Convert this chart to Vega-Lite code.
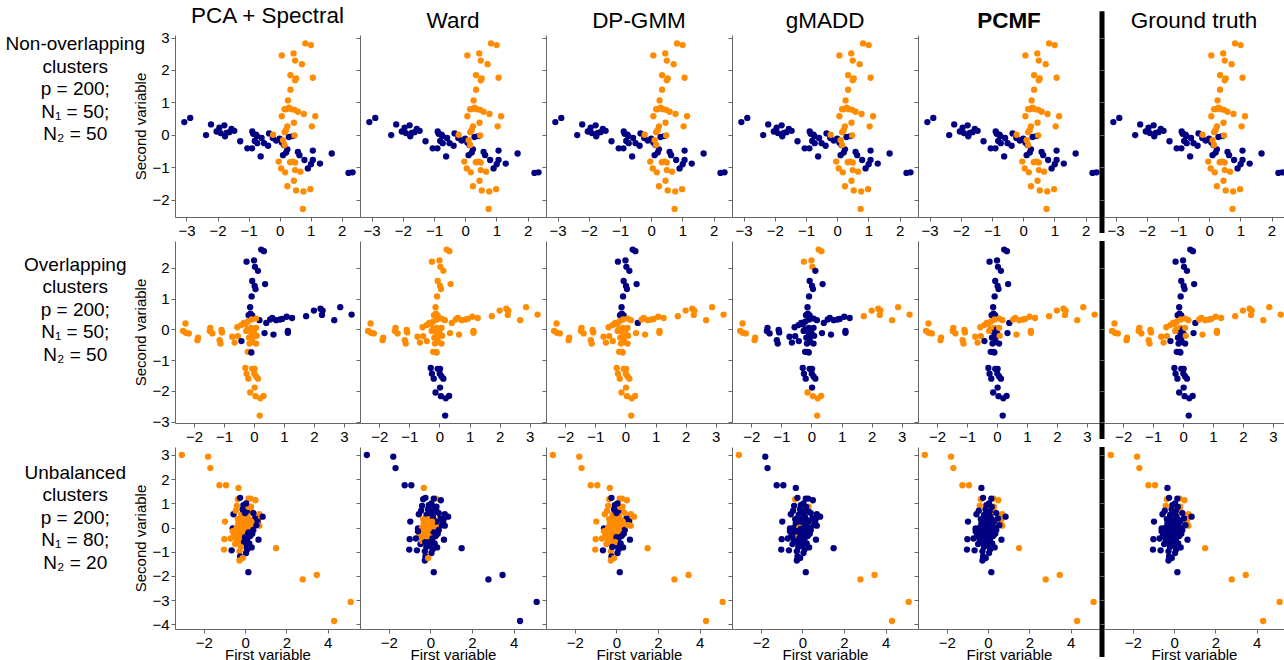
{
"$schema": "https://vega.github.io/schema/vega-lite/v6.json",
"padding": {"left": 0, "top": 5, "right": 0, "bottom": 0},
"autosize": {"type": "pad"},
"config": {
  "view": {"stroke": null},
  "font": "Liberation Sans",
  "axis": {"grid": false, "domainColor": "#666", "tickColor": "#666", "tickSize": 4, "labelFont": "Liberation Sans", "labelFontSize": 15, "labelColor": "#000", "labelPadding": 2, "titleFont": "Liberation Sans", "titleFontSize": 15, "titleFontWeight": "normal", "titleColor": "#000", "titlePadding": 3},
  "axisX": {"titlePadding": -3},
  "title": {"font": "Liberation Sans", "fontSize": 22.5, "fontWeight": "normal", "color": "#000", "offset": 3},
  "circle": {"size": 40, "opacity": 1}
},
"datasets": {
  "r1": [
    {"x":-3.07,"y":0.39,"g":1},{"x":-2.88,"y":0.52,"g":1},{"x":-2.37,"y":-0.01,"g":1},{"x":-2.21,"y":0.32,"g":1},{"x":-2.03,"y":0.10,"g":1},{"x":-1.94,"y":0.22,"g":1},{"x":-1.78,"y":0.29,"g":1},{"x":-1.76,"y":-0.05,"g":1},{"x":-1.71,"y":0.06,"g":1},{"x":-1.62,"y":0.08,"g":1},{"x":-1.46,"y":0.12,"g":1},{"x":-1.27,"y":-0.20,"g":1},{"x":-1.04,"y":-0.42,"g":1},{"x":-0.89,"y":-0.42,"g":1},{"x":-0.88,"y":0.10,"g":1},{"x":-0.80,"y":-0.19,"g":1},{"x":-0.73,"y":-0.04,"g":1},{"x":-0.72,"y":-0.26,"g":1},{"x":-0.61,"y":-0.67,"g":1},{"x":-0.50,"y":-0.26,"g":1},{"x":-0.34,"y":0.04,"g":1},{"x":-0.37,"y":-0.34,"g":1},{"x":-0.11,"y":-0.18,"g":1},{"x":0.00,"y":-0.12,"g":1},{"x":0.07,"y":-0.24,"g":1},{"x":0.14,"y":-0.32,"g":1},{"x":0.11,"y":-0.63,"g":1},{"x":0.21,"y":-0.55,"g":1},{"x":0.30,"y":-0.07,"g":1},{"x":0.43,"y":-0.04,"g":1},{"x":0.59,"y":-0.53,"g":1},{"x":0.64,"y":-0.63,"g":1},{"x":0.80,"y":-0.78,"g":1},{"x":1.07,"y":-0.49,"g":1},{"x":1.07,"y":-0.78,"g":1},{"x":0.91,"y":-1.04,"g":1},{"x":1.01,"y":-0.91,"g":1},{"x":1.30,"y":-0.89,"g":1},{"x":1.68,"y":-0.58,"g":1},{"x":2.22,"y":-1.18,"g":1},{"x":2.35,"y":-1.16,"g":1},{"x":-0.85,"y":0.03,"g":1},{"x":-0.76,"y":0.00,"g":1},{"x":-0.22,"y":-0.10,"g":1},{"x":0.25,"y":-0.45,"g":1},{"x":-1.55,"y":0.18,"g":1},{"x":-0.58,"y":-0.10,"g":1},{"x":-1.90,"y":0.05,"g":1},
    {"x":0.83,"y":2.82,"g":2},{"x":1.01,"y":2.77,"g":2},{"x":0.07,"y":2.45,"g":2},{"x":0.45,"y":2.51,"g":2},{"x":0.50,"y":2.29,"g":2},{"x":0.72,"y":2.18,"g":2},{"x":0.35,"y":1.84,"g":2},{"x":0.50,"y":1.68,"g":2},{"x":0.53,"y":1.74,"g":2},{"x":1.07,"y":1.76,"g":2},{"x":0.35,"y":1.39,"g":2},{"x":0.27,"y":1.06,"g":2},{"x":0.21,"y":0.79,"g":2},{"x":0.30,"y":0.84,"g":2},{"x":0.37,"y":0.79,"g":2},{"x":0.48,"y":0.77,"g":2},{"x":0.59,"y":0.71,"g":2},{"x":0.16,"y":0.79,"g":2},{"x":0.07,"y":0.57,"g":2},{"x":0.78,"y":0.64,"g":2},{"x":1.15,"y":0.57,"g":2},{"x":0.46,"y":0.37,"g":2},{"x":1.04,"y":0.26,"g":2},{"x":0.25,"y":0.26,"g":2},{"x":0.21,"y":0.15,"g":2},{"x":-0.21,"y":0.00,"g":2},{"x":0.16,"y":0.08,"g":2},{"x":0.48,"y":-0.02,"g":2},{"x":0.11,"y":-0.17,"g":2},{"x":0.16,"y":-0.32,"g":2},{"x":-0.03,"y":-0.83,"g":2},{"x":0.34,"y":-0.85,"g":2},{"x":0.43,"y":-0.83,"g":2},{"x":0.50,"y":-0.86,"g":2},{"x":0.05,"y":-1.04,"g":2},{"x":0.50,"y":-1.09,"g":2},{"x":0.67,"y":-1.14,"g":2},{"x":0.18,"y":-1.16,"g":2},{"x":0.46,"y":-1.42,"g":2},{"x":0.25,"y":-1.59,"g":2},{"x":0.53,"y":-1.72,"g":2},{"x":0.77,"y":-1.75,"g":2},{"x":0.99,"y":-1.68,"g":2},{"x":0.75,"y":-2.29,"g":2}
  ],
  "r2": [
    {"x":0.24,"y":2.59,"a":1,"b":2,"c":1,"d":2,"g":1},{"x":0.33,"y":2.54,"a":1,"b":2,"c":1,"d":2,"g":1},{"x":-0.25,"y":2.20,"a":1,"b":2,"c":1,"d":2,"g":1},{"x":0.00,"y":2.24,"a":1,"b":2,"c":1,"d":2,"g":1},{"x":0.03,"y":2.03,"a":1,"b":2,"c":1,"d":2,"g":1},
    {"x":0.13,"y":1.90,"a":1,"b":2,"c":1,"d":1,"g":1},{"x":-0.06,"y":1.57,"a":1,"b":2,"c":1,"d":1,"g":1},{"x":0.37,"y":1.47,"a":1,"b":2,"c":1,"d":1,"g":1},{"x":0.02,"y":1.41,"a":1,"b":2,"c":1,"d":1,"g":1},{"x":0.05,"y":1.31,"a":1,"b":2,"c":1,"d":1,"g":1},{"x":-0.08,"y":1.07,"a":1,"b":2,"c":1,"d":1,"g":1},{"x":-0.13,"y":0.72,"a":1,"b":2,"c":1,"d":1,"g":1},{"x":-0.18,"y":0.46,"a":1,"b":2,"c":1,"d":1,"g":1},{"x":-0.12,"y":0.51,"a":1,"b":2,"c":1,"d":1,"g":1},{"x":-0.06,"y":0.45,"a":1,"b":2,"c":1,"d":1,"g":1},
    {"x":0.18,"y":0.30,"a":1,"b":2,"c":2,"d":1,"g":2},{"x":0.41,"y":0.21,"a":1,"b":2,"c":1,"d":1,"g":1},{"x":0.54,"y":0.32,"a":1,"b":2,"c":2,"d":1,"g":2},{"x":0.61,"y":0.37,"a":1,"b":2,"c":2,"d":1,"g":2},{"x":0.74,"y":0.30,"a":1,"b":2,"c":2,"d":1,"g":2},{"x":0.87,"y":0.32,"a":1,"b":2,"c":2,"d":1,"g":2},{"x":0.94,"y":0.34,"a":1,"b":2,"c":2,"d":1,"g":2},{"x":1.09,"y":0.41,"a":1,"b":2,"c":2,"d":1,"g":2},{"x":1.27,"y":0.37,"a":1,"b":2,"c":2,"d":1,"g":2},{"x":1.13,"y":-0.05,"a":1,"b":2,"c":2,"d":1,"g":2},{"x":1.13,"y":-0.11,"a":1,"b":2,"c":2,"d":1,"g":2},{"x":0.35,"y":-0.12,"a":1,"b":2,"c":2,"d":1,"g":1},{"x":0.65,"y":-0.17,"a":1,"b":2,"c":2,"d":1,"g":2},
    {"x":1.74,"y":0.43,"a":1,"b":2,"c":2,"d":2,"g":2},{"x":2.00,"y":0.61,"a":1,"b":2,"c":2,"d":2,"g":2},{"x":2.22,"y":0.67,"a":1,"b":2,"c":2,"d":2,"g":2},{"x":2.29,"y":0.61,"a":1,"b":2,"c":2,"d":2,"g":2},{"x":2.27,"y":0.47,"a":1,"b":2,"c":2,"d":2,"g":2},{"x":2.68,"y":0.30,"a":1,"b":2,"c":2,"d":2,"g":2},{"x":2.88,"y":0.72,"a":1,"b":2,"c":2,"d":2,"g":2},{"x":3.26,"y":0.48,"a":1,"b":2,"c":2,"d":2,"g":2},
    {"x":-2.37,"y":-0.05,"a":2,"b":2,"c":2,"d":2,"g":2},{"x":-2.29,"y":0.19,"a":2,"b":2,"c":2,"d":2,"g":2},{"x":-2.28,"y":-0.11,"a":2,"b":2,"c":2,"d":2,"g":2},{"x":-2.18,"y":-0.13,"a":2,"b":2,"c":2,"d":2,"g":2},{"x":-1.87,"y":-0.27,"a":2,"b":2,"c":2,"d":2,"g":2},{"x":-1.89,"y":-0.35,"a":2,"b":2,"c":2,"d":2,"g":2},
    {"x":-1.46,"y":0.05,"a":2,"b":2,"c":2,"d":1,"g":2},{"x":-1.48,"y":-0.05,"a":2,"b":2,"c":2,"d":1,"g":2},{"x":-1.39,"y":-0.13,"a":2,"b":2,"c":2,"d":1,"g":2},{"x":-1.09,"y":-0.02,"a":2,"b":2,"c":2,"d":1,"g":2},{"x":-1.07,"y":-0.10,"a":2,"b":2,"c":2,"d":1,"g":2},{"x":-1.15,"y":-0.35,"a":2,"b":2,"c":2,"d":1,"g":2},{"x":-1.12,"y":-0.46,"a":2,"b":2,"c":2,"d":1,"g":2},{"x":-0.73,"y":-0.24,"a":2,"b":2,"c":2,"d":1,"g":2},{"x":-0.65,"y":-0.43,"a":2,"b":2,"c":2,"d":1,"g":2},{"x":-0.54,"y":-0.22,"a":2,"b":2,"c":2,"d":1,"g":2},{"x":-0.56,"y":0.07,"a":2,"b":2,"c":2,"d":1,"g":2},{"x":-0.43,"y":0.14,"a":2,"b":2,"c":2,"d":1,"g":2},{"x":-0.34,"y":0.21,"a":2,"b":2,"c":2,"d":1,"g":2},{"x":-0.29,"y":0.17,"a":2,"b":2,"c":2,"d":1,"g":2},{"x":-0.21,"y":0.25,"a":2,"b":2,"c":2,"d":1,"g":2},{"x":-0.08,"y":0.32,"a":2,"b":2,"c":2,"d":1,"g":2},{"x":0.07,"y":0.35,"a":2,"b":2,"c":2,"d":1,"g":2},
    {"x":-0.21,"y":0.00,"a":2,"b":2,"c":2,"d":1,"g":2},{"x":-0.09,"y":0.05,"a":2,"b":2,"c":2,"d":1,"g":2},{"x":0.00,"y":0.00,"a":2,"b":2,"c":2,"d":1,"g":1},{"x":0.07,"y":0.05,"a":2,"b":2,"c":2,"d":1,"g":2},{"x":-0.09,"y":-0.11,"a":2,"b":2,"c":2,"d":1,"g":1},{"x":0.02,"y":-0.16,"a":2,"b":2,"c":2,"d":1,"g":1},{"x":-0.17,"y":-0.27,"a":2,"b":2,"c":2,"d":1,"g":1},{"x":-0.06,"y":-0.27,"a":2,"b":2,"c":2,"d":1,"g":1},{"x":0.09,"y":-0.21,"a":2,"b":2,"c":2,"d":1,"g":2},{"x":-0.15,"y":-0.46,"a":2,"b":2,"c":2,"d":1,"g":1},{"x":-0.04,"y":-0.41,"a":2,"b":2,"c":2,"d":1,"g":1},{"x":0.07,"y":-0.46,"a":2,"b":2,"c":2,"d":1,"g":1},{"x":-0.26,"y":-0.05,"a":2,"b":2,"c":2,"d":1,"g":2},{"x":-0.21,"y":-0.73,"a":2,"b":2,"c":2,"d":1,"g":1},{"x":-0.12,"y":-0.73,"a":2,"b":2,"c":2,"d":1,"g":1},
    {"x":-0.29,"y":-1.25,"a":2,"b":1,"c":2,"d":1,"g":1},{"x":-0.25,"y":-1.44,"a":2,"b":1,"c":2,"d":1,"g":1},{"x":-0.19,"y":-1.60,"a":2,"b":1,"c":2,"d":1,"g":1},{"x":-0.06,"y":-1.28,"a":2,"b":1,"c":2,"d":1,"g":1},{"x":0.02,"y":-1.28,"a":2,"b":1,"c":2,"d":1,"g":1},{"x":0.01,"y":-1.44,"a":2,"b":1,"c":2,"d":1,"g":1},{"x":0.07,"y":-1.53,"a":2,"b":1,"c":2,"d":1,"g":1},{"x":0.13,"y":-1.60,"a":2,"b":1,"c":2,"d":1,"g":1},{"x":0.02,"y":-1.89,"a":2,"b":1,"c":2,"d":1,"g":1},
    {"x":-0.13,"y":-2.05,"a":2,"b":1,"c":2,"d":2,"g":1},{"x":0.05,"y":-2.17,"a":2,"b":1,"c":2,"d":2,"g":1},{"x":0.21,"y":-2.24,"a":2,"b":1,"c":2,"d":2,"g":1},{"x":0.32,"y":-2.16,"a":2,"b":1,"c":2,"d":2,"g":1},{"x":0.19,"y":-2.80,"a":2,"b":1,"c":2,"d":2,"g":1},
    {"x":-0.42,"y":-0.38,"a":1,"b":2,"c":2,"d":1,"g":1},{"x":-0.09,"y":-0.75,"a":1,"b":2,"c":2,"d":1,"g":1}
  ],
  "r3": [
    {"x":-3.06,"y":3.00,"a":2,"b":1,"c":2,"d":2,"g":2},{"x":-1.79,"y":2.93,"a":2,"b":1,"c":2,"d":1,"g":2},{"x":-1.68,"y":2.46,"a":2,"b":1,"c":2,"d":1,"g":2},{"x":-1.24,"y":1.75,"a":2,"b":1,"c":2,"d":1,"g":2},{"x":-0.92,"y":1.75,"a":2,"b":1,"c":2,"d":1,"g":2},{"x":-0.35,"y":1.17,"a":2,"b":1,"c":2,"d":2,"g":2},{"x":-0.40,"y":0.90,"a":2,"b":1,"c":2,"d":1,"g":2},{"x":0.27,"y":1.20,"a":2,"b":2,"c":2,"d":1,"g":2},{"x":0.50,"y":1.13,"a":2,"b":1,"c":2,"d":1,"g":2},{"x":0.29,"y":0.86,"a":2,"b":1,"c":2,"d":2,"g":2},{"x":0.32,"y":0.65,"a":2,"b":1,"c":2,"d":1,"g":2},{"x":0.69,"y":0.55,"a":2,"b":1,"c":2,"d":1,"g":2},{"x":0.65,"y":0.38,"a":2,"b":1,"c":2,"d":1,"g":2},{"x":0.61,"y":0.25,"a":1,"b":1,"c":1,"d":1,"g":2},{"x":0.69,"y":0.08,"a":2,"b":1,"c":2,"d":1,"g":2},{"x":1.50,"y":-0.85,"a":2,"b":1,"c":2,"d":1,"g":2},{"x":2.79,"y":-2.14,"a":2,"b":1,"c":2,"d":2,"g":2},{"x":3.47,"y":-1.96,"a":2,"b":1,"c":2,"d":2,"g":2},{"x":5.11,"y":-3.07,"a":2,"b":1,"c":2,"d":2,"g":2},{"x":4.31,"y":-3.86,"a":2,"b":1,"c":2,"d":2,"g":2},
    {"x":-0.32,"y":1.64,"a":2,"b":2,"c":2,"d":1,"g":1},{"x":-0.24,"y":1.23,"a":1,"b":1,"c":1,"d":1,"g":1},{"x":0.16,"y":1.20,"a":2,"b":1,"c":2,"d":1,"g":1},{"x":-0.08,"y":0.93,"a":1,"b":1,"c":1,"d":1,"g":1},{"x":0.08,"y":0.68,"a":1,"b":1,"c":1,"d":1,"g":1},{"x":-0.56,"y":0.55,"a":1,"b":1,"c":2,"d":1,"g":1},{"x":-0.19,"y":0.52,"a":2,"b":1,"c":2,"d":1,"g":1},{"x":0.85,"y":0.45,"a":1,"b":1,"c":2,"d":1,"g":1},{"x":0.48,"y":0.38,"a":1,"b":1,"c":1,"d":1,"g":1},{"x":-0.97,"y":0.25,"a":2,"b":1,"c":2,"d":1,"g":1},{"x":0.00,"y":0.31,"a":2,"b":2,"c":2,"d":1,"g":1},{"x":0.24,"y":0.31,"a":2,"b":2,"c":2,"d":1,"g":1},{"x":-0.32,"y":0.18,"a":2,"b":2,"c":2,"d":1,"g":1},{"x":-0.60,"y":-0.03,"a":1,"b":1,"c":1,"d":1,"g":1},{"x":-0.40,"y":0.00,"a":2,"b":2,"c":2,"d":1,"g":1},{"x":-0.16,"y":0.04,"a":2,"b":2,"c":2,"d":1,"g":1},{"x":0.08,"y":0.08,"a":2,"b":2,"c":2,"d":1,"g":1},{"x":0.32,"y":0.00,"a":2,"b":2,"c":2,"d":1,"g":1},{"x":-0.53,"y":-0.27,"a":2,"b":2,"c":2,"d":1,"g":1},{"x":-0.32,"y":-0.23,"a":2,"b":2,"c":2,"d":1,"g":1},{"x":-0.08,"y":-0.16,"a":2,"b":2,"c":2,"d":1,"g":1},{"x":0.16,"y":-0.30,"a":1,"b":2,"c":1,"d":1,"g":1},{"x":0.40,"y":-0.10,"a":1,"b":1,"c":1,"d":1,"g":1},{"x":-1.00,"y":-0.48,"a":2,"b":1,"c":2,"d":1,"g":1},{"x":-0.40,"y":-0.44,"a":2,"b":2,"c":2,"d":1,"g":1},{"x":-0.16,"y":-0.50,"a":2,"b":2,"c":2,"d":1,"g":1},{"x":0.08,"y":-0.57,"a":1,"b":1,"c":1,"d":1,"g":1},{"x":0.65,"y":-0.50,"a":1,"b":1,"c":1,"d":1,"g":1},{"x":-0.48,"y":-0.68,"a":2,"b":1,"c":2,"d":1,"g":1},{"x":0.00,"y":-0.74,"a":1,"b":1,"c":1,"d":1,"g":1},{"x":-1.02,"y":-0.91,"a":2,"b":1,"c":2,"d":1,"g":1},{"x":-0.65,"y":-0.94,"a":1,"b":1,"c":1,"d":1,"g":1},{"x":-0.27,"y":-0.98,"a":2,"b":1,"c":2,"d":1,"g":1},{"x":0.32,"y":-0.82,"a":1,"b":1,"c":1,"d":1,"g":1},{"x":0.05,"y":-1.05,"a":1,"b":1,"c":1,"d":1,"g":1},{"x":-0.24,"y":-1.19,"a":1,"b":1,"c":1,"d":1,"g":1},{"x":-0.27,"y":-1.36,"a":2,"b":1,"c":2,"d":1,"g":1},{"x":-0.11,"y":-1.26,"a":2,"b":2,"c":2,"d":1,"g":1},{"x":0.16,"y":-1.84,"a":1,"b":1,"c":1,"d":1,"g":1},
    {"x":-0.45,"y":-0.10,"a":2,"b":2,"c":2,"d":1,"g":1},{"x":-0.35,"y":-0.30,"a":2,"b":2,"c":2,"d":1,"g":1},{"x":-0.25,"y":-0.05,"a":2,"b":2,"c":2,"d":1,"g":1},{"x":-0.20,"y":-0.35,"a":2,"b":2,"c":2,"d":2,"g":1},{"x":-0.10,"y":-0.25,"a":2,"b":2,"c":2,"d":1,"g":1},{"x":-0.05,"y":0.10,"a":2,"b":2,"c":2,"d":1,"g":1},{"x":0.05,"y":-0.10,"a":2,"b":2,"c":2,"d":1,"g":1},{"x":0.15,"y":-0.20,"a":1,"b":1,"c":2,"d":1,"g":1},{"x":-0.30,"y":0.10,"a":2,"b":2,"c":2,"d":1,"g":1},{"x":-0.15,"y":-0.45,"a":2,"b":2,"c":2,"d":1,"g":1},{"x":0.00,"y":-0.40,"a":1,"b":2,"c":1,"d":1,"g":1},{"x":0.20,"y":0.15,"a":2,"b":2,"c":2,"d":1,"g":1},{"x":-0.40,"y":-0.55,"a":2,"b":2,"c":2,"d":1,"g":1},{"x":-0.25,"y":-0.60,"a":2,"b":1,"c":2,"d":1,"g":1},{"x":0.10,"y":-0.45,"a":1,"b":1,"c":1,"d":1,"g":1},{"x":-0.50,"y":-0.35,"a":2,"b":2,"c":2,"d":1,"g":1},{"x":0.30,"y":0.25,"a":2,"b":1,"c":2,"d":1,"g":1},{"x":-0.10,"y":0.35,"a":2,"b":2,"c":2,"d":1,"g":1},{"x":-0.20,"y":0.25,"a":2,"b":2,"c":2,"d":1,"g":1},{"x":0.12,"y":0.45,"a":2,"b":1,"c":2,"d":1,"g":1},{"x":-0.35,"y":0.35,"a":2,"b":2,"c":2,"d":1,"g":1},{"x":-0.05,"y":-0.60,"a":1,"b":1,"c":2,"d":1,"g":1},{"x":0.25,"y":-0.35,"a":1,"b":1,"c":1,"d":1,"g":1},{"x":-0.60,"y":-0.15,"a":2,"b":1,"c":2,"d":1,"g":1},{"x":0.00,"y":0.60,"a":1,"b":1,"c":1,"d":1,"g":1},{"x":-0.12,"y":0.75,"a":1,"b":1,"c":1,"d":1,"g":1},{"x":0.18,"y":0.85,"a":2,"b":1,"c":2,"d":1,"g":1},{"x":0.05,"y":1.00,"a":1,"b":1,"c":1,"d":1,"g":1},{"x":-0.20,"y":-0.80,"a":2,"b":1,"c":1,"d":1,"g":1},{"x":0.10,"y":-0.90,"a":1,"b":1,"c":1,"d":1,"g":1},{"x":-0.45,"y":0.70,"a":2,"b":1,"c":2,"d":1,"g":1},{"x":0.40,"y":0.60,"a":1,"b":1,"c":2,"d":1,"g":1},{"x":0.55,"y":0.10,"a":1,"b":1,"c":2,"d":1,"g":1},{"x":-0.70,"y":-0.45,"a":2,"b":1,"c":2,"d":1,"g":1},{"x":0.20,"y":-0.65,"a":1,"b":1,"c":1,"d":1,"g":1},{"x":-0.15,"y":0.00,"a":2,"b":2,"c":2,"d":2,"g":1},{"x":0.08,"y":0.25,"a":2,"b":2,"c":2,"d":1,"g":1},{"x":-0.28,"y":-0.15,"a":2,"b":2,"c":2,"d":1,"g":1},{"x":0.35,"y":-0.25,"a":1,"b":1,"c":1,"d":1,"g":1},{"x":-0.08,"y":-0.05,"a":2,"b":2,"c":2,"d":1,"g":1}
  ]
},
"vconcat": [
  {"hconcat": [
    {"width":175,"height":182,"data":{"values":[{"t":"Non-overlapping\nclusters\np = 200;\nN₁ = 50;\nN₂ = 50"}]},"mark":{"type":"text","font":"Liberation Sans","fontSize":19,"lineHeight":22.5,"lineBreak":"\n","align":"center","baseline":"top"},"encoding":{"text":{"field":"t"},"x":{"datum":0.43,"type":"quantitative","scale":{"domain":[0,1]},"axis":null},"y":{"datum":1.0,"type":"quantitative","scale":{"domain":[0,1]},"axis":null}}},
    {"width":185,"height":182,"title":"PCA + Spectral","data":{"name":"r1"},"mark":"circle","encoding":{"x":{"field":"x","type":"quantitative","scale":{"domain":[-3.37,2.59],"nice":false,"zero":false},"axis":{"values":[-3,-2,-1,0,1,2],"title":null}},"y":{"field":"y","type":"quantitative","scale":{"domain":[-2.54,3.08],"nice":false,"zero":false},"axis":{"values":[-2,-1,0,1,2,3],"title":"Second variable"}},"color":{"field":"g","type":"nominal","scale":{"domain":[1,2],"range":["#000080","#ff8c00"]},"legend":null}}},
    {"width":186,"height":182,"title":"Ward","data":{"name":"r1"},"mark":"circle","encoding":{"x":{"field":"x","type":"quantitative","scale":{"domain":[-3.37,2.59],"nice":false,"zero":false},"axis":{"values":[-3,-2,-1,0,1,2],"title":null}},"y":{"field":"y","type":"quantitative","scale":{"domain":[-2.54,3.08],"nice":false,"zero":false},"axis":{"values":[-2,-1,0,1,2,3],"labels":false,"title":null}},"color":{"field":"g","type":"nominal","scale":{"domain":[1,2],"range":["#000080","#ff8c00"]},"legend":null}}},
    {"width":186,"height":182,"title":"DP-GMM","data":{"name":"r1"},"mark":"circle","encoding":{"x":{"field":"x","type":"quantitative","scale":{"domain":[-3.37,2.59],"nice":false,"zero":false},"axis":{"values":[-3,-2,-1,0,1,2],"title":null}},"y":{"field":"y","type":"quantitative","scale":{"domain":[-2.54,3.08],"nice":false,"zero":false},"axis":{"values":[-2,-1,0,1,2,3],"labels":false,"title":null}},"color":{"field":"g","type":"nominal","scale":{"domain":[1,2],"range":["#000080","#ff8c00"]},"legend":null}}},
    {"width":186,"height":182,"title":"gMADD","data":{"name":"r1"},"mark":"circle","encoding":{"x":{"field":"x","type":"quantitative","scale":{"domain":[-3.37,2.59],"nice":false,"zero":false},"axis":{"values":[-3,-2,-1,0,1,2],"title":null}},"y":{"field":"y","type":"quantitative","scale":{"domain":[-2.54,3.08],"nice":false,"zero":false},"axis":{"values":[-2,-1,0,1,2,3],"labels":false,"title":null}},"color":{"field":"g","type":"nominal","scale":{"domain":[1,2],"range":["#000080","#ff8c00"]},"legend":null}}},
    {"width":182,"height":182,"title":{"text":"PCMF","fontWeight":"bold"},"data":{"name":"r1"},"mark":"circle","encoding":{"x":{"field":"x","type":"quantitative","scale":{"domain":[-3.37,2.46],"nice":false,"zero":false},"axis":{"values":[-3,-2,-1,0,1,2],"title":null}},"y":{"field":"y","type":"quantitative","scale":{"domain":[-2.54,3.08],"nice":false,"zero":false},"axis":{"values":[-2,-1,0,1,2,3],"labels":false,"title":null}},"color":{"field":"g","type":"nominal","scale":{"domain":[1,2],"range":["#000080","#ff8c00"]},"legend":null}}},
    {"width":4,"height":182,"data":{"values":[{"s":1}]},"mark":{"type":"rule","strokeWidth":5,"color":"#000"},"encoding":{"x":{"datum":0.5,"type":"quantitative","scale":{"domain":[0,1]},"axis":null},"y":{"datum":1.13,"type":"quantitative","scale":{"domain":[0,1]},"axis":null},"y2":{"datum":-0.088}}},
    {"width":180,"height":182,"title":"Ground truth","data":{"name":"r1"},"mark":"circle","encoding":{"x":{"field":"x","type":"quantitative","scale":{"domain":[-3.37,2.4],"nice":false,"zero":false},"axis":{"values":[-3,-2,-1,0,1,2],"title":null}},"y":{"field":"y","type":"quantitative","scale":{"domain":[-2.54,3.08],"nice":false,"zero":false},"axis":{"values":[-2,-1,0,1,2,3],"labels":false,"title":null}},"color":{"field":"g","type":"nominal","scale":{"domain":[1,2],"range":["#000080","#ff8c00"]},"legend":null}}}
  ], "spacing": 0, "bounds": "flush", "resolve": {"scale": {"x": "independent", "y": "independent"}}},
  {"hconcat": [
    {"width":175,"height":182,"data":{"values":[{"t":"Overlapping\nclusters\np = 200;\nN₁ = 50;\nN₂ = 50"}]},"mark":{"type":"text","font":"Liberation Sans","fontSize":19,"lineHeight":22.5,"lineBreak":"\n","align":"center","baseline":"top"},"encoding":{"text":{"field":"t"},"x":{"datum":0.43,"type":"quantitative","scale":{"domain":[0,1]},"axis":null},"y":{"datum":0.918,"type":"quantitative","scale":{"domain":[0,1]},"axis":null}}},
    {"width":185,"height":182,"data":{"name":"r2"},"mark":"circle","encoding":{"x":{"field":"x","type":"quantitative","scale":{"domain":[-2.64,3.54],"nice":false,"zero":false},"axis":{"values":[-2,-1,0,1,2,3],"title":null}},"y":{"field":"y","type":"quantitative","scale":{"domain":[-3.04,2.87],"nice":false,"zero":false},"axis":{"values":[-3,-2,-1,0,1,2],"title":"Second variable"}},"color":{"field":"a","type":"nominal","scale":{"domain":[1,2],"range":["#000080","#ff8c00"]},"legend":null}}},
    {"width":186,"height":182,"data":{"name":"r2"},"mark":"circle","encoding":{"x":{"field":"x","type":"quantitative","scale":{"domain":[-2.64,3.54],"nice":false,"zero":false},"axis":{"values":[-2,-1,0,1,2,3],"title":null}},"y":{"field":"y","type":"quantitative","scale":{"domain":[-3.04,2.87],"nice":false,"zero":false},"axis":{"values":[-3,-2,-1,0,1,2],"labels":false,"title":null}},"color":{"field":"b","type":"nominal","scale":{"domain":[1,2],"range":["#000080","#ff8c00"]},"legend":null}}},
    {"width":186,"height":182,"data":{"name":"r2"},"mark":"circle","encoding":{"x":{"field":"x","type":"quantitative","scale":{"domain":[-2.64,3.54],"nice":false,"zero":false},"axis":{"values":[-2,-1,0,1,2,3],"title":null}},"y":{"field":"y","type":"quantitative","scale":{"domain":[-3.04,2.87],"nice":false,"zero":false},"axis":{"values":[-3,-2,-1,0,1,2],"labels":false,"title":null}},"color":{"field":"c","type":"nominal","scale":{"domain":[1,2],"range":["#000080","#ff8c00"]},"legend":null}}},
    {"width":186,"height":182,"data":{"name":"r2"},"mark":"circle","encoding":{"x":{"field":"x","type":"quantitative","scale":{"domain":[-2.64,3.54],"nice":false,"zero":false},"axis":{"values":[-2,-1,0,1,2,3],"title":null}},"y":{"field":"y","type":"quantitative","scale":{"domain":[-3.04,2.87],"nice":false,"zero":false},"axis":{"values":[-3,-2,-1,0,1,2],"labels":false,"title":null}},"color":{"field":"d","type":"nominal","scale":{"domain":[1,2],"range":["#000080","#ff8c00"]},"legend":null}}},
    {"width":182,"height":182,"data":{"name":"r2"},"mark":"circle","encoding":{"x":{"field":"x","type":"quantitative","scale":{"domain":[-2.64,3.44],"nice":false,"zero":false},"axis":{"values":[-2,-1,0,1,2,3],"title":null}},"y":{"field":"y","type":"quantitative","scale":{"domain":[-3.04,2.87],"nice":false,"zero":false},"axis":{"values":[-3,-2,-1,0,1,2],"labels":false,"title":null}},"color":{"field":"g","type":"nominal","scale":{"domain":[1,2],"range":["#000080","#ff8c00"]},"legend":null}}},
    {"width":4,"height":182,"data":{"values":[{"s":1}]},"mark":{"type":"rule","strokeWidth":5,"color":"#000"},"encoding":{"x":{"datum":0.5,"type":"quantitative","scale":{"domain":[0,1]},"axis":null},"y":{"datum":1.0,"type":"quantitative","scale":{"domain":[0,1]},"axis":null},"y2":{"datum":-0.088}}},
    {"width":180,"height":182,"data":{"name":"r2"},"mark":"circle","encoding":{"x":{"field":"x","type":"quantitative","scale":{"domain":[-2.64,3.37],"nice":false,"zero":false},"axis":{"values":[-2,-1,0,1,2,3],"title":null}},"y":{"field":"y","type":"quantitative","scale":{"domain":[-3.04,2.87],"nice":false,"zero":false},"axis":{"values":[-3,-2,-1,0,1,2],"labels":false,"title":null}},"color":{"field":"g","type":"nominal","scale":{"domain":[1,2],"range":["#000080","#ff8c00"]},"legend":null}}}
  ], "spacing": 0, "bounds": "flush", "resolve": {"scale": {"x": "independent", "y": "independent"}}},
  {"hconcat": [
    {"width":175,"height":182,"data":{"values":[{"t":"Unbalanced\nclusters\np = 200;\nN₁ = 80;\nN₂ = 20"}]},"mark":{"type":"text","font":"Liberation Sans","fontSize":19,"lineHeight":22.5,"lineBreak":"\n","align":"center","baseline":"top"},"encoding":{"text":{"field":"t"},"x":{"datum":0.43,"type":"quantitative","scale":{"domain":[0,1]},"axis":null},"y":{"datum":0.907,"type":"quantitative","scale":{"domain":[0,1]},"axis":null}}},
    {"width":185,"height":182,"data":{"name":"r3"},"mark":"circle","encoding":{"x":{"field":"x","type":"quantitative","scale":{"domain":[-3.39,5.56],"nice":false,"zero":false},"axis":{"values":[-2,0,2,4],"title":"First variable"}},"y":{"field":"y","type":"quantitative","scale":{"domain":[-4.19,3.33],"nice":false,"zero":false},"axis":{"values":[-4,-3,-2,-1,0,1,2,3],"title":"Second variable"}},"color":{"field":"a","type":"nominal","scale":{"domain":[1,2],"range":["#000080","#ff8c00"]},"legend":null}}},
    {"width":186,"height":182,"data":{"name":"r3"},"mark":"circle","encoding":{"x":{"field":"x","type":"quantitative","scale":{"domain":[-3.39,5.56],"nice":false,"zero":false},"axis":{"values":[-2,0,2,4],"title":"First variable"}},"y":{"field":"y","type":"quantitative","scale":{"domain":[-4.19,3.33],"nice":false,"zero":false},"axis":{"values":[-4,-3,-2,-1,0,1,2,3],"labels":false,"title":null}},"color":{"field":"b","type":"nominal","scale":{"domain":[1,2],"range":["#000080","#ff8c00"]},"legend":null}}},
    {"width":186,"height":182,"data":{"name":"r3"},"mark":"circle","encoding":{"x":{"field":"x","type":"quantitative","scale":{"domain":[-3.39,5.56],"nice":false,"zero":false},"axis":{"values":[-2,0,2,4],"title":"First variable"}},"y":{"field":"y","type":"quantitative","scale":{"domain":[-4.19,3.33],"nice":false,"zero":false},"axis":{"values":[-4,-3,-2,-1,0,1,2,3],"labels":false,"title":null}},"color":{"field":"c","type":"nominal","scale":{"domain":[1,2],"range":["#000080","#ff8c00"]},"legend":null}}},
    {"width":186,"height":182,"data":{"name":"r3"},"mark":"circle","encoding":{"x":{"field":"x","type":"quantitative","scale":{"domain":[-3.39,5.56],"nice":false,"zero":false},"axis":{"values":[-2,0,2,4],"title":"First variable"}},"y":{"field":"y","type":"quantitative","scale":{"domain":[-4.19,3.33],"nice":false,"zero":false},"axis":{"values":[-4,-3,-2,-1,0,1,2,3],"labels":false,"title":null}},"color":{"field":"d","type":"nominal","scale":{"domain":[1,2],"range":["#000080","#ff8c00"]},"legend":null}}},
    {"width":182,"height":182,"data":{"name":"r3"},"mark":"circle","encoding":{"x":{"field":"x","type":"quantitative","scale":{"domain":[-3.39,5.42],"nice":false,"zero":false},"axis":{"values":[-2,0,2,4],"title":"First variable"}},"y":{"field":"y","type":"quantitative","scale":{"domain":[-4.19,3.33],"nice":false,"zero":false},"axis":{"values":[-4,-3,-2,-1,0,1,2,3],"labels":false,"title":null}},"color":{"field":"g","type":"nominal","scale":{"domain":[1,2],"range":["#000080","#ff8c00"]},"legend":null}}},
    {"width":4,"height":182,"data":{"values":[{"s":1}]},"mark":{"type":"rule","strokeWidth":5,"color":"#000"},"encoding":{"x":{"datum":0.5,"type":"quantitative","scale":{"domain":[0,1]},"axis":null},"y":{"datum":1.0,"type":"quantitative","scale":{"domain":[0,1]},"axis":null},"y2":{"datum":-0.154}}},
    {"width":180,"height":182,"data":{"name":"r3"},"mark":"circle","encoding":{"x":{"field":"x","type":"quantitative","scale":{"domain":[-3.39,5.32],"nice":false,"zero":false},"axis":{"values":[-2,0,2,4],"title":"First variable"}},"y":{"field":"y","type":"quantitative","scale":{"domain":[-4.19,3.33],"nice":false,"zero":false},"axis":{"values":[-4,-3,-2,-1,0,1,2,3],"labels":false,"title":null}},"color":{"field":"g","type":"nominal","scale":{"domain":[1,2],"range":["#000080","#ff8c00"]},"legend":null}}}
  ], "spacing": 0, "bounds": "flush", "resolve": {"scale": {"x": "independent", "y": "independent"}}}
],
"spacing": 0,
"resolve": {"scale": {"x": "independent", "y": "independent"}}
}
